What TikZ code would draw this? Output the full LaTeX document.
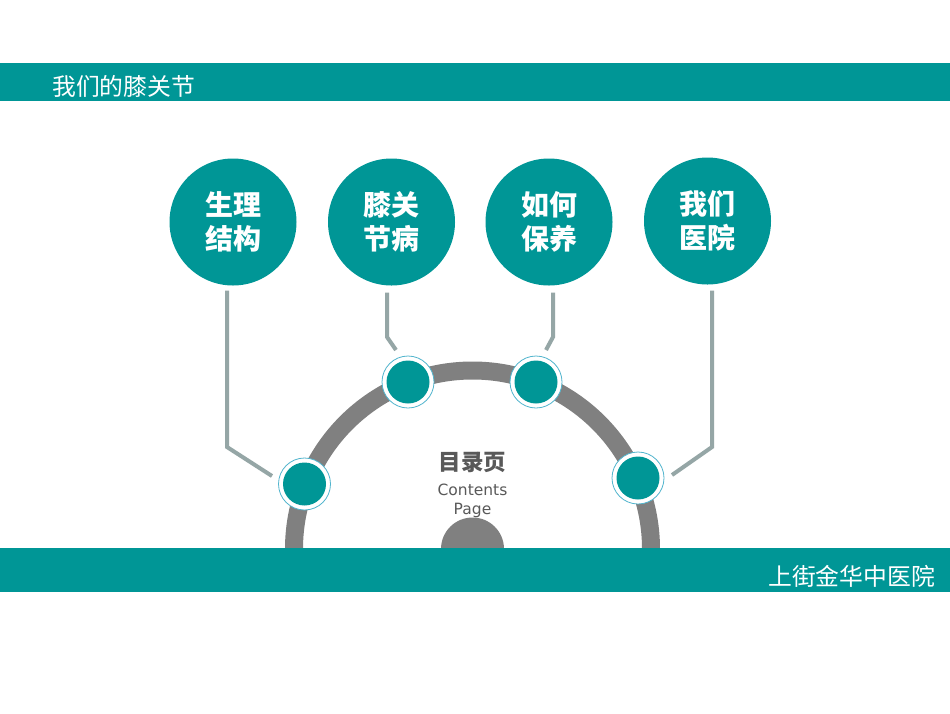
\documentclass[tikz,border=0pt]{standalone}
\usepackage{fontspec}
\newfontfamily\cjk{Noto Sans CJK SC}
\newfontfamily\latinsans{DejaVu Sans}
\usetikzlibrary{calc}
\definecolor{tealmain}{RGB}{0,150,150}
\definecolor{connc}{RGB}{149,166,166}
\definecolor{ringc}{RGB}{128,128,128}
\definecolor{outc}{RGB}{80,180,205}
\definecolor{txtgray}{RGB}{89,89,89}
\tikzset{
  bigc/.style={circle, fill=tealmain, minimum size=127pt, inner sep=0pt, text=white,
    align=center, font=\cjk\bfseries\fontsize{28pt}{34pt}\selectfont},
  smallc/.style={circle, fill=white, draw=outc, line width=0.8pt, minimum size=52pt, inner sep=0pt,
    path picture={\fill[tealmain] (path picture bounding box.center) circle (21.5pt);}},
  conn/.style={draw=connc, line width=4pt},
  band/.style={fill=tealmain},
}
\begin{document}
\begin{tikzpicture}[x=1pt,y=-1pt]
\useasboundingbox[fill=white] (0,0) rectangle (950,713);
% bands
\fill[band] (0,63) rectangle (950,101);
\node[anchor=west, inner sep=0pt, text=white, font=\cjk\fontsize{23.8pt}{28pt}\selectfont] (title) at (52,86) {我们的膝关节};
% ring
\begin{scope}
\clip (0,0) rectangle (950,548);
\fill[ringc, even odd rule] (472.5,549) circle (187.5pt) (472.5,549) circle (169.5pt);
\fill[ringc] (472.5,549) circle (31.5pt);
\end{scope}
\fill[band] (0,548) rectangle (950,592);
\node[anchor=east, inner sep=0pt, text=white, font=\cjk\fontsize{23.8pt}{28pt}\selectfont] (hosp) at (935,576) {上街金华中医院};
% centre text
\node[text=txtgray, inner sep=0pt, font=\cjk\bfseries\fontsize{22.5pt}{26pt}\selectfont] (mulu) at (472.5,462) {目录页};
\node[text=txtgray, inner sep=0pt, align=center, font=\latinsans\fontsize{15.5pt}{19pt}\selectfont] (cp) at (472.5,501) {Contents\\Page};
% big circles
\node[bigc] (b1) at (233,222) {生理\\结构};
\node[bigc] (b2) at (391.5,222) {膝关\\节病};
\node[bigc] (b3) at (549,222) {如何\\保养};
\node[bigc] (b4) at (707.5,221) {我们\\医院};
% small circles
\node[smallc] (s1) at (304.5,484) {};
\node[smallc] (s2) at (408,382) {};
\node[smallc] (s3) at (536,382) {};
\node[smallc] (s4) at (638,478) {};
% connector bends and ends
\coordinate (k1) at (227,447);
\coordinate (e1) at (272,476);
\coordinate (k2) at (387,337);
\coordinate (e2) at (396,350);
\coordinate (k3) at (553,337);
\coordinate (e3) at (546,350);
\coordinate (k4) at (712,447);
\coordinate (e4) at (672,475);
\draw[conn] ($(b1.south)+(-6,5)$) -- (k1) -- (e1);
\draw[conn] ($(b2.south)+(-4.5,7)$) -- (k2) -- (e2);
\draw[conn] ($(b3.south)+(4,7)$) -- (k3) -- (e3);
\draw[conn] ($(b4.south)+(4.5,6)$) -- (k4) -- (e4);
\end{tikzpicture}
\end{document}
